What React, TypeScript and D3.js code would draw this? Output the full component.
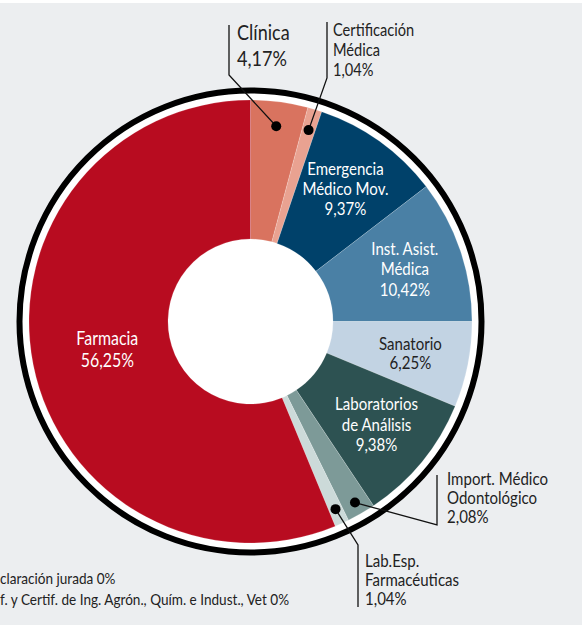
import { useEffect, useRef } from "react";
import * as d3 from "d3";

// slices, clockwise from 12 o'clock
const names = [
  "Clínica",
  "Certificación Médica",
  "Emergencia Médico Mov.",
  "Inst. Asist. Médica",
  "Sanatorio",
  "Laboratorios de Análisis",
  "Import. Médico Odontológico",
  "Lab.Esp. Farmacéuticas",
  "Farmacia",
];
const shares = [4.17, 1.04, 9.37, 10.42, 6.25, 9.38, 2.08, 1.04, 56.25];
const shareLabels = ["4,17%", "1,04%", "9,37%", "10,42%", "6,25%", "9,38%", "2,08%", "1,04%", "56,25%"];
const colors = ["#d9735f", "#e9a291", "#00416a", "#4a80a5", "#c2d3e3", "#2d5252", "#7d9a98", "#ccdad9", "#b80c20"];

// label text lines (name part)
const nameLines = [
  ["Clínica"],
  ["Certificación", "Médica"],
  ["Emergencia", "Médico Mov."],
  ["Inst. Asist.", "Médica"],
  ["Sanatorio"],
  ["Laboratorios", "de Análisis"],
  ["Import. Médico", "Odontológico"],
  ["Lab.Esp.", "Farmacéuticas"],
  ["Farmacia"],
];
const insideSlices = [2, 3, 4, 5, 8];
const outsideSlices = [0, 1, 6, 7];

// notes for 0% categories (only the part visible in the frame)
const zeroNotes = [
  "claración jurada 0%",
  "f. y Certif. de Ing. Agrón., Quím. e Indust., Vet 0%",
];

const FONT = "Lato, 'Open Sans', sans-serif";
const SX = 0.86; // horizontal condensing

const App = () => {
  const ref = useRef<SVGSVGElement | null>(null);

  useEffect(() => {
    const width = 582;
    const height = 625;
    const cx = 250.5;
    const cy = 321.5;
    const outerR = 221.5;
    const innerR = 82.5;

    const svg = d3.select(ref.current).attr("width", width).attr("height", height);

    svg.append("rect").attr("width", width).attr("height", height).attr("fill", "#eceef0");
    svg.append("rect").attr("width", width).attr("height", 3).attr("fill", "#ffffff");

    const g = svg.append("g").attr("transform", `translate(${cx},${cy})`);

    g.append("circle").attr("r", 229).attr("fill", "#ffffff");

    const pie = d3.pie<number>().sort(null).value(d => d);
    const arcs = pie(shares);
    const arc = d3.arc<d3.PieArcDatum<number>>().innerRadius(innerR).outerRadius(outerR);

    g.selectAll("path.slice")
      .data(arcs)
      .enter()
      .append("path")
      .attr("class", "slice")
      .attr("d", arc)
      .attr("fill", (d, i) => colors[i])
      .attr("stroke", "#ffffff")
      .attr("stroke-opacity", 0.25)
      .attr("stroke-width", 0.7);

    g.append("circle")
      .attr("r", 231)
      .attr("fill", "none")
      .attr("stroke", "#000")
      .attr("stroke-width", 6);

    const block = (parent, x, y, lines, size, lh, fill, anchor) => {
      const t = parent.append("g")
        .attr("transform", `translate(${x},${y}) scale(${SX},1)`)
        .append("text")
        .attr("text-anchor", anchor)
        .style("font-family", FONT)
        .style("font-size", `${size}px`)
        .attr("fill", fill);
      lines.forEach((l, k) => {
        t.append("tspan").attr("x", 0).attr("y", k * lh).text(l);
      });
    };

    // inside labels
    insideSlices.forEach(i => {
      const r = i === 8 ? 146 : 163;
      const la = d3.arc<d3.PieArcDatum<number>>().innerRadius(r).outerRadius(r);
      const [x, y] = la.centroid(arcs[i]);
      const lines = [...nameLines[i], shareLabels[i]];
      const lh = i === 4 ? 19.5 : i === 8 ? 22 : 20.5;
      const fill = i === 4 ? "#222" : "#ffffff";
      const size = i === 8 ? 18.5 : 17.5;
      block(g, x, y - ((lines.length - 1) / 2) * lh + 6, lines, size, lh, fill, "middle");
    });

    // outside labels with leaders
    const dotR = [197, 200, 209, 206];
    const elbows: [number, number][][] = [
      [[229 - cx, 75 - cy], [229 - cx, 25 - cy]],
      [[327 - cx, 78 - cy], [327 - cx, 22 - cy]],
      [[437 - cx, 525 - cy], [437 - cx, 475 - cy]],
      [[358 - cx, 545 - cy], [358 - cx, 607 - cy]],
    ];
    const textPos = [
      { x: 237, y: 40, size: 21, lh: 26 },
      { x: 333, y: 36, size: 17, lh: 20 },
      { x: 447, y: 485, size: 17.5, lh: 19 },
      { x: 365, y: 567, size: 17.5, lh: 19 },
    ];

    outsideSlices.forEach((i, j) => {
      const da = d3.arc<d3.PieArcDatum<number>>().innerRadius(dotR[j]).outerRadius(dotR[j]);
      const [dx, dy] = da.centroid(arcs[i]);
      const pts: [number, number][] = [[dx, dy], ...elbows[j]];
      g.append("path")
        .attr("d", d3.line()(pts))
        .attr("fill", "none")
        .attr("stroke", "#111")
        .attr("stroke-width", 1.3);
      g.append("circle").attr("cx", dx).attr("cy", dy).attr("r", 5).attr("fill", "#000");

      const p = textPos[j];
      block(svg, p.x, p.y, [...nameLines[i], shareLabels[i]], p.size, p.lh, "#222", "start");
    });

    // zero-share notes
    zeroNotes.forEach((n, i) => {
      block(svg, 0, 584 + i * 21, [n], 15.8, 0, "#222", "start");
    });

    return () => {
      d3.select(ref.current).selectAll("*").remove();
    };
  }, []);

  return <svg ref={ref} style={{ position: "absolute", left: 0, top: 0, display: "block" }}></svg>;
};

export default App;
